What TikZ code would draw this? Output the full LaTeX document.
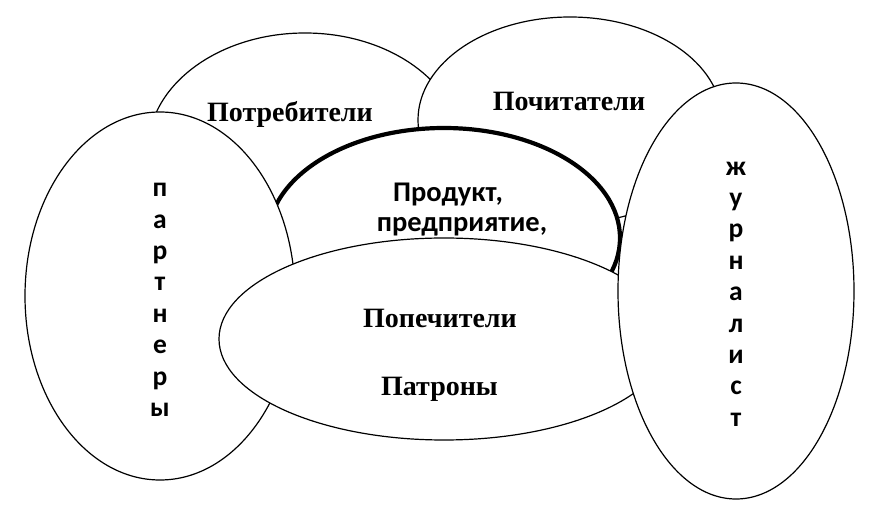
\documentclass[tikz,border=0pt]{standalone}
\usepackage{fontspec}
\setmainfont{Liberation Serif}
\newfontfamily\calib{Carlito}
\usetikzlibrary{shapes.geometric}
\begin{document}
\begin{tikzpicture}[x=1pt,y=-1pt,
  oval/.style={ellipse, draw, fill=white, line width=1.2pt, inner sep=0pt, outer sep=0pt},
  serif/.style={font=\fontsize{28}{30}\selectfont\bfseries, anchor=base, inner sep=0pt},
  sans/.style={font=\calib\fontsize{28.5}{30}\selectfont\bfseries, inner sep=0pt},
  vert/.style={font=\calib\fontsize{27.5}{31.4}\selectfont\bfseries, align=center, inner sep=0pt}]
\useasboundingbox (0,0) rectangle (876,518);
\fill[white] (0,0) rectangle (876,518);
\node[oval, minimum width=314pt, minimum height=234pt] (potr) at (305,150) {};
\node[oval, minimum width=304pt, minimum height=206pt] (poch) at (570,120) {};
\node[oval, line width=4.2pt, minimum width=352pt, minimum height=220pt] (prod) at (444,238) {};
\node[serif] (tpotr) at (290,122) {Потребители};
\node[serif] (tpoch) at (569,111) {Почитатели};
\node[sans, align=center] (tprod) at (462,210) {Продукт,\hspace*{28pt}\\предприятие,};
\node[oval, minimum width=270pt, minimum height=368pt] (part) at (160,296) {};
\node[vert] (tpart) at (160,300) {п\\а\\р\\т\\н\\е\\р\\ы};
\node[oval, minimum width=450pt, minimum height=202pt] (pope) at (444,339) {};
\node[serif] (tpope) at (440,328) {Попечители};
\node[serif] (tpatr) at (439.5,396) {Патроны};
\node[oval, minimum width=236pt, minimum height=416pt] (zhur) at (736,291) {};
\node[vert] (tzhur) at (736,294) {ж\\у\\р\\н\\а\\л\\и\\с\\т};
\end{tikzpicture}
\end{document}
